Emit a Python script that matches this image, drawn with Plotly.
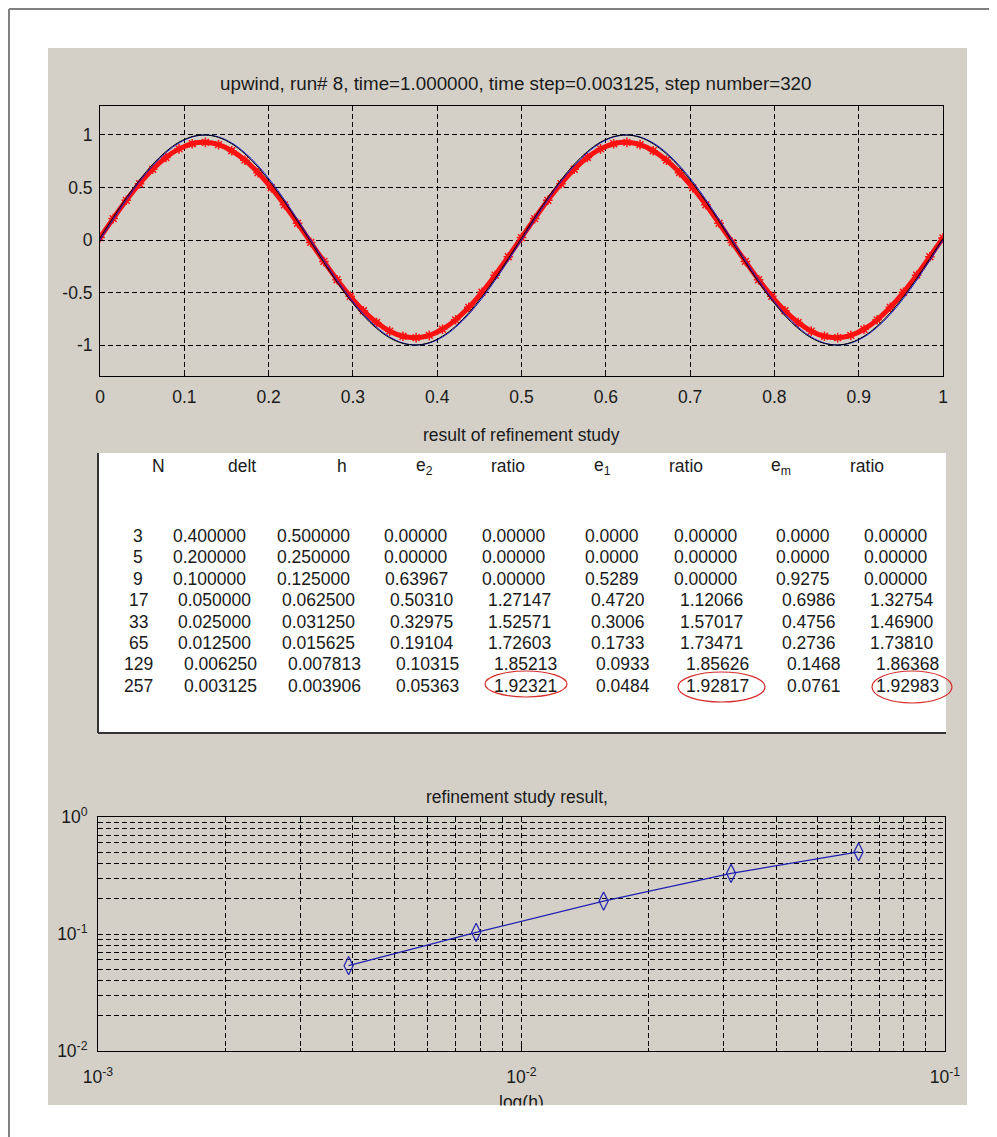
import plotly.graph_objects as go

# ---------------- data ----------------
# top plot: solution at t=1 on x = k/64
x_top = [k / 64 for k in range(65)]
exact_blue = [0.000, 0.195, 0.383, 0.556, 0.707, 0.831, 0.924, 0.981, 1.000, 0.981, 0.924, 0.831, 0.707, 0.556, 0.383, 0.195,
              0.000, -0.195, -0.383, -0.556, -0.707, -0.831, -0.924, -0.981, -1.000, -0.981, -0.924, -0.831, -0.707, -0.556, -0.383, -0.195,
              0.000, 0.195, 0.383, 0.556, 0.707, 0.831, 0.924, 0.981, 1.000, 0.981, 0.924, 0.831, 0.707, 0.556, 0.383, 0.195,
              0.000, -0.195, -0.383, -0.556, -0.707, -0.831, -0.924, -0.981, -1.000, -0.981, -0.924, -0.831, -0.707, -0.556, -0.383, -0.195,
              0.000]
exact_black = [0.020, 0.215, 0.402, 0.573, 0.721, 0.842, 0.932, 0.985, 1.000, 0.977, 0.916, 0.820, 0.693, 0.539, 0.365, 0.175,
               -0.020, -0.215, -0.402, -0.573, -0.721, -0.842, -0.932, -0.985, -1.000, -0.977, -0.916, -0.820, -0.693, -0.539, -0.365, -0.175,
               0.020, 0.215, 0.402, 0.573, 0.721, 0.842, 0.932, 0.985, 1.000, 0.977, 0.916, 0.820, 0.693, 0.539, 0.365, 0.175,
               -0.020, -0.215, -0.402, -0.573, -0.721, -0.842, -0.932, -0.985, -1.000, -0.977, -0.916, -0.820, -0.693, -0.539, -0.365, -0.175,
               0.015]
upwind_red = [0.023, 0.204, 0.378, 0.536, 0.674, 0.786, 0.868, 0.917, 0.930, 0.908, 0.850, 0.760, 0.641, 0.498, 0.335, 0.159,
              -0.023, -0.204, -0.378, -0.536, -0.674, -0.786, -0.868, -0.917, -0.930, -0.908, -0.850, -0.760, -0.641, -0.498, -0.335, -0.159,
              0.023, 0.204, 0.378, 0.536, 0.674, 0.786, 0.868, 0.917, 0.930, 0.908, 0.850, 0.760, 0.641, 0.498, 0.335, 0.159,
              -0.023, -0.204, -0.378, -0.536, -0.674, -0.786, -0.868, -0.917, -0.930, -0.908, -0.850, -0.760, -0.641, -0.498, -0.335, -0.159,
              0.020]
top_xticks = [0, 0.1, 0.2, 0.3, 0.4, 0.5, 0.6, 0.7, 0.8, 0.9, 1]
top_xticklabels = ["0", "0.1", "0.2", "0.3", "0.4", "0.5", "0.6", "0.7", "0.8", "0.9", "1"]
top_yticks = [-1, -0.5, 0, 0.5, 1]
top_yticklabels = ["-1", "-0.5", "0", "0.5", "1"]

# refinement table
tbl_N = ["3", "5", "9", "17", "33", "65", "129", "257"]
tbl_delt = ["0.400000", "0.200000", "0.100000", "0.050000", "0.025000", "0.012500", "0.006250", "0.003125"]
tbl_h = ["0.500000", "0.250000", "0.125000", "0.062500", "0.031250", "0.015625", "0.007813", "0.003906"]
tbl_e2 = ["0.00000", "0.00000", "0.63967", "0.50310", "0.32975", "0.19104", "0.10315", "0.05363"]
tbl_r2 = ["0.00000", "0.00000", "0.00000", "1.27147", "1.52571", "1.72603", "1.85213", "1.92321"]
tbl_e1 = ["0.0000", "0.0000", "0.5289", "0.4720", "0.3006", "0.1733", "0.0933", "0.0484"]
tbl_r1 = ["0.00000", "0.00000", "0.00000", "1.12066", "1.57017", "1.73471", "1.85626", "1.92817"]
tbl_em = ["0.0000", "0.0000", "0.9275", "0.6986", "0.4756", "0.2736", "0.1468", "0.0761"]
tbl_rm = ["0.00000", "0.00000", "0.00000", "1.32754", "1.46900", "1.73810", "1.86368", "1.92983"]
tbl_headers = ["N", "delt", "h", "e<sub>2</sub>", "ratio", "e<sub>1</sub>", "ratio", "e<sub>m</sub>", "ratio"]

# log-log refinement plot
ref_h = [0.003906, 0.007813, 0.015625, 0.03125, 0.0625]
ref_e2 = [0.05363, 0.10315, 0.19104, 0.32975, 0.50310]
log_xticks = [0.001, 0.01, 0.1]
log_xticklabels = ["10<sup>-3</sup>", "10<sup>-2</sup>", "10<sup>-1</sup>"]
log_yticks = [0.01, 0.1, 1]
log_yticklabels = ["10<sup>-2</sup>", "10<sup>-1</sup>", "10<sup>0</sup>"]

# ---------------- layout helpers ----------------
OFF = 8  # page body margin
W, H = 997 - OFF, 1137 - OFF
def px(x):
    return (x - OFF) / W
def py(y):
    return 1 - (y - OFF) / H

FONT = "Liberation Sans, Arial, sans-serif"
TXT = "#1a1a1a"
FS = 17.5
GRAY = "#d4d0c8"
DASH = "5px,3px"

fig = go.Figure()

fig.add_trace(go.Scatter(x=x_top, y=upwind_red, mode="lines+markers",
                         line=dict(color="#ff1010", width=5, shape="spline"),
                         marker=dict(symbol="asterisk-open", size=8, line=dict(color="#ff1010", width=1.5)),
                         xaxis="x", yaxis="y", showlegend=False))
fig.add_trace(go.Scatter(x=x_top, y=exact_blue, mode="lines", line=dict(color="#1010d0", width=1, shape="spline"),
                         xaxis="x", yaxis="y", showlegend=False))
fig.add_trace(go.Scatter(x=x_top, y=exact_black, mode="lines", line=dict(color="#000000", width=1, shape="spline"),
                         xaxis="x", yaxis="y", showlegend=False))

fig.add_trace(go.Scatter(x=ref_h, y=ref_e2, mode="lines+markers",
                         line=dict(color="#2020b0", width=1.2),
                         marker=dict(symbol="diamond-tall-open", size=13, line=dict(color="#2020b0", width=1.2)),
                         xaxis="x2", yaxis="y2", showlegend=False))

axis_common = dict(showline=True, mirror=True, linecolor="black", linewidth=1,
                   ticks="inside", tickcolor="black", ticklen=5, automargin=False,
                   showgrid=True, gridcolor="black", gridwidth=1, griddash=DASH,
                   zeroline=False, tickfont=dict(family=FONT, size=FS, color=TXT))

fig.update_layout(
    width=W, height=H, margin=dict(l=0, r=0, t=0, b=0, pad=0, autoexpand=False),
    paper_bgcolor="white", plot_bgcolor="white",
    xaxis=dict(domain=[px(100), px(943)], range=[0, 1], anchor="y",
               tickmode="array", tickvals=top_xticks, ticktext=top_xticklabels,
               ticklabelstandoff=5, **axis_common),
    yaxis=dict(domain=[py(376), py(106)], range=[-1.295, 1.276], anchor="x",
               tickmode="array", tickvals=top_yticks, ticktext=top_yticklabels,
               ticklabelstandoff=3, **axis_common),
    xaxis2=dict(domain=[px(98), px(945)], type="log", range=[-3, -1], anchor="y2",
                tickmode="array", tickvals=log_xticks, ticktext=log_xticklabels,
                ticklabelstandoff=10,
                minor=dict(dtick="D1", showgrid=True, gridcolor="black", gridwidth=1, griddash=DASH,
                           ticks="inside", ticklen=3, tickcolor="black"),
                **axis_common),
    yaxis2=dict(domain=[py(1051), py(817)], type="log", range=[-2, 0], anchor="x2",
                tickmode="array", tickvals=log_yticks, ticktext=log_yticklabels,
                ticklabelstandoff=6,
                minor=dict(dtick="D1", showgrid=True, gridcolor="black", gridwidth=1, griddash=DASH,
                           ticks="inside", ticklen=3, tickcolor="black"),
                **axis_common),
)

shapes = []
# outer frame lines (kept just inside the figure area)
shapes.append(dict(type="line", xref="paper", yref="paper", x0=px(9), x1=px(997), y0=py(9), y1=py(9),
                   line=dict(color="#808080", width=2), layer="below"))
shapes.append(dict(type="line", xref="paper", yref="paper", x0=px(9), x1=px(9), y0=py(9), y1=py(1137),
                   line=dict(color="#808080", width=2), layer="below"))
# gray figure panel
shapes.append(dict(type="rect", xref="paper", yref="paper", x0=px(48), x1=px(967), y0=py(1105), y1=py(48),
                   fillcolor=GRAY, line=dict(width=0), layer="below"))
# table box
shapes.append(dict(type="rect", xref="paper", yref="paper", x0=px(98), x1=px(946), y0=py(733), y1=py(453),
                   fillcolor="white", line=dict(width=0), layer="below"))
shapes.append(dict(type="line", xref="paper", yref="paper", x0=px(98), x1=px(98), y0=py(733), y1=py(453),
                   line=dict(color="#333333", width=2), layer="below"))
shapes.append(dict(type="line", xref="paper", yref="paper", x0=px(98), x1=px(946), y0=py(733), y1=py(733),
                   line=dict(color="#333333", width=2), layer="below"))

annotations = []
def text(x, y, s, size=FS, xanchor="center"):
    annotations.append(dict(x=px(x), y=py(y), xref="paper", yref="paper", text=s, showarrow=False,
                            xanchor=xanchor, yanchor="middle", font=dict(family=FONT, size=size, color=TXT)))

text(516, 84, "upwind, run# 8, time=1.000000, time step=0.003125, step number=320", size=18.8)
text(521, 435, "result of refinement study")
text(517, 797, "refinement study result,")

# table
header_x = [158, 242, 342, 424, 508, 602, 686, 781, 867]
for hx, ht in zip(header_x, tbl_headers):
    text(hx, 466, ht)

col_x = [138, 209, 313, 416, 514, 612, 706, 803, 896]
columns = [tbl_N, tbl_delt, tbl_h, tbl_e2, tbl_r2, tbl_e1, tbl_r1, tbl_em, tbl_rm]
row_y0, row_dy = 536, 21.4
for r in range(len(tbl_N)):
    shift = (len(tbl_N[r]) - 1) * 5.5
    y = row_y0 + r * row_dy
    for c, col in enumerate(columns):
        xx = col_x[c] + (shift if c > 0 else 0)
        text(xx, y, col[r])

# hand-drawn red marks around final ratios
for (x0, x1, y0, y1) in [(485, 567, 671, 697), (678, 765, 672, 702), (872, 952, 671, 703)]:
    shapes.append(dict(type="circle", xref="paper", yref="paper", x0=px(x0), x1=px(x1), y0=py(y1), y1=py(y0),
                       line=dict(color="#d42a2a", width=1.2), layer="above"))

# x-label of log plot (clipped by panel edge)
text(521, 1102, "log(h)")
annotations.append(dict(x=px(11), y=py(1105), xref="paper", yref="paper", text=" ", showarrow=False,
                        xanchor="left", yanchor="top", width=986, height=32, bgcolor="white",
                        font=dict(size=10)))

fig.update_layout(shapes=shapes, annotations=annotations)
fig.write_html("out.html")
